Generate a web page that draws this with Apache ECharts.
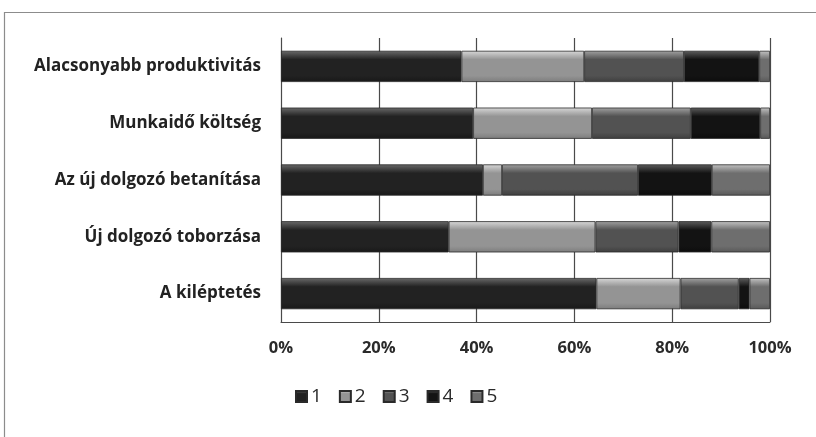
<!DOCTYPE html>
<html>
<head>
<meta charset="utf-8">
<script src="https://cdn.jsdelivr.net/npm/echarts@6/dist/echarts.min.js"></script>
<style>
  html, body { margin: 0; padding: 0; background: #fff; }
  #chart { width: 816px; height: 437px; }
</style>
</head>
<body>
<div id="chart"></div>
<script>
// Categories, top to bottom
const categories = [
  'Alacsonyabb produktivitás',
  'Munkaidő költség',
  'Az új dolgozó betanítása',
  'Új dolgozó toborzása',
  'A kiléptetés'
];

// Share of answers per rating (percent of each row)
const seriesNames = ['1', '2', '3', '4', '5'];
const rating1 = [36.9, 39.3, 41.3, 34.3, 64.5];
const rating2 = [25.1, 24.3, 3.9, 30.0, 17.2];
const rating3 = [20.4, 20.2, 27.8, 17.0, 11.9];
const rating4 = [15.4, 14.2, 15.1, 6.7, 2.2];
const rating5 = [2.2, 2.0, 11.9, 12.0, 4.2];

const xTicks = [0, 20, 40, 60, 80, 100];

// Bevel-like shading: light top edge, base tone, darker bottom
const shades = [
  ['#6a6a6a', '#222222', '#181818'],
  ['#d8d8d8', '#949494', '#7c7c7c'],
  ['#a2a2a2', '#525252', '#3e3e3e'],
  ['#5e5e5e', '#131313', '#0c0c0c'],
  ['#c4c4c4', '#6e6e6e', '#585858']
];

function fill(s) {
  return new echarts.graphic.LinearGradient(0, 0, 0, 1, [
    { offset: 0, color: s[0] },
    { offset: 0.28, color: s[1] },
    { offset: 0.8, color: s[1] },
    { offset: 1, color: s[2] }
  ]);
}

const values = [rating1, rating2, rating3, rating4, rating5];

const chart = echarts.init(document.getElementById('chart'), null, { renderer: 'canvas' });

chart.setOption({
  animation: false,
  backgroundColor: '#ffffff',
  grid: { left: 281, right: 46, top: 38, bottom: 115 },
  graphic: [
    {
      type: 'polyline',
      shape: { points: [[4.5, 437], [4.5, 12.5], [816, 12.5]] },
      style: { stroke: '#8c8c8c', lineWidth: 1.2, fill: null },
      silent: true
    }
  ],
  legend: {
    data: seriesNames,
    left: 290,
    top: 382,
    itemWidth: 11,
    itemHeight: 11,
    itemGap: 17,
    icon: 'rect',
    textStyle: { fontFamily: 'Open Sans', fontSize: 19, color: '#2a2a2a', padding: [0, 0, 0, -1] }
  },
  xAxis: {
    type: 'value',
    min: 0,
    max: 100,
    interval: 20,
    axisLine: { show: true, lineStyle: { color: '#4a4a4a', width: 1 } },
    axisTick: { show: false },
    splitLine: { show: true, lineStyle: { color: '#4a4a4a', width: 1.2 } },
    axisLabel: {
      formatter: v => xTicks.includes(v) ? v + '%' : '',
      fontFamily: 'Open Sans',
      fontWeight: 'bold',
      fontSize: 16.5,
      color: '#2a2a2a',
      margin: 18
    }
  },
  yAxis: {
    type: 'category',
    data: categories,
    inverse: true,
    axisLine: { show: true, lineStyle: { color: '#4a4a4a', width: 1 } },
    axisTick: { show: false },
    axisLabel: {
      fontFamily: 'Open Sans',
      fontWeight: 'bold',
      fontSize: 17,
      color: '#222222',
      margin: 20
    }
  },
  series: seriesNames.map((name, i) => ({
    name: name,
    type: 'bar',
    stack: 'total',
    barCategoryGap: '45%',
    data: values[i],
    itemStyle: {
      color: fill(shades[i]),
      borderColor: '#2a2a2a',
      borderWidth: 0.8
    }
  }))
});
</script>
</body>
</html>
